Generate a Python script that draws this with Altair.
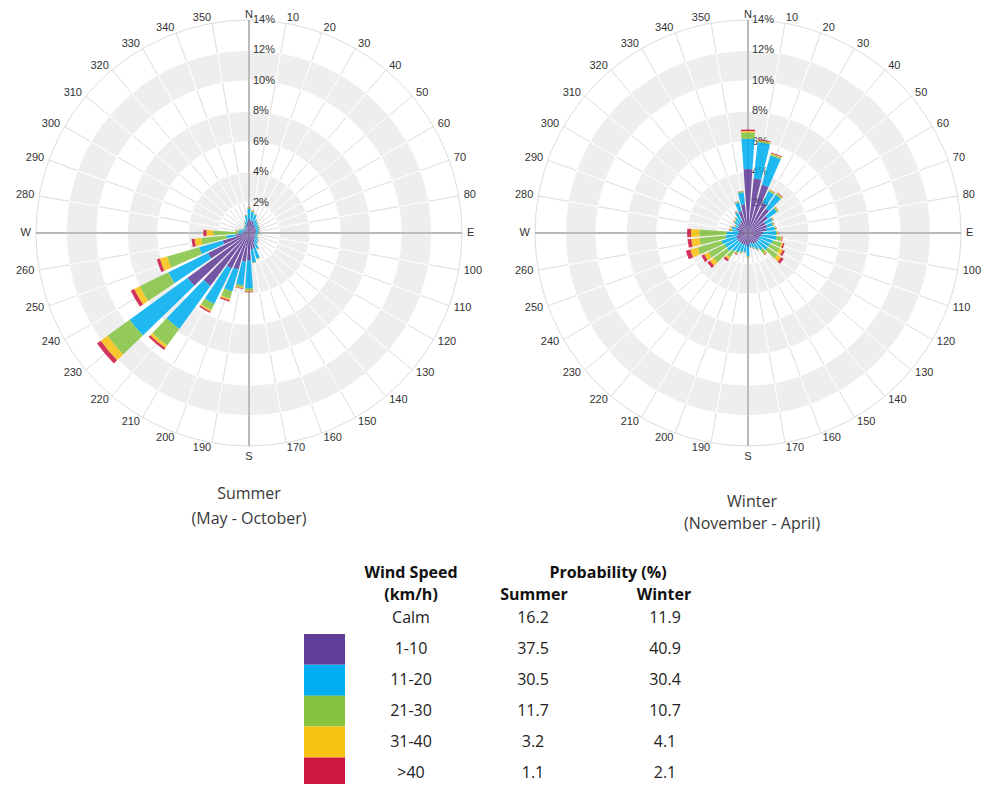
import math
import altair as alt
import pandas as pd

# ---------------- data ----------------
DIRECTIONS = [0, 10, 20, 30, 40, 50, 60, 70, 80, 90, 100, 110, 120, 130, 140, 150, 160, 170,
              180, 190, 200, 210, 220, 230, 240, 250, 260, 270, 280, 290, 300, 310, 320, 330, 340, 350]
SPEED_CLASSES = ["1-10", "11-20", "21-30", "31-40", ">40"]
SPEED_COLORS = ["#603e98", "#00afef", "#85c341", "#f8c210", "#cd1642"]

# percent of time, per direction (0..350 step 10), per speed class
summer_1_10 = [0.9, 0.8, 0.8, 0.6, 0.6, 0.5, 0.5, 0.5, 0.45, 0.45, 0.4, 0.4, 0.45, 0.5, 0.55, 0.7, 1.0, 1.1,
               1.8, 1.9, 2.5, 2.6, 4.3, 5.0, 3.0, 1.8, 0.9, 0.4, 0.4, 0.4, 0.3, 0.3, 0.3, 0.35, 0.5, 0.7]
summer_11_20 = [0.7, 0.6, 0.45, 0.35, 0.25, 0.25, 0.25, 0.2, 0.2, 0.2, 0.15, 0.15, 0.2, 0.25, 0.3, 0.45, 0.75, 0.85,
                1.85, 1.55, 1.5, 2.6, 3.5, 4.7, 2.9, 1.6, 0.6, 0.3, 0.3, 0.2, 0.15, 0.15, 0.15, 0.2, 0.25, 0.45]
summer_21_30 = [0.05, 0.05, 0.03, 0.03, 0.03, 0.03, 0.03, 0.03, 0.03, 0.03, 0.03, 0.03, 0.03, 0.03, 0.03, 0.03, 0.03, 0.03,
                0.15, 0.15, 0.5, 0.45, 1.35, 1.8, 2.1, 2.2, 1.65, 1.65, 0.15, 0.05, 0.03, 0.03, 0.03, 0.03, 0.03, 0.03]
summer_31_40 = [0.03, 0.03, 0.01, 0.01, 0.01, 0.01, 0.01, 0.01, 0.01, 0.01, 0.01, 0.01, 0.01, 0.01, 0.01, 0.01, 0.01, 0.01,
                0.05, 0.05, 0.1, 0.1, 0.2, 0.55, 0.4, 0.5, 0.45, 0.45, 0.03, 0.03, 0.01, 0.01, 0.01, 0.01, 0.01, 0.01]
summer_over_40 = [0.02, 0.02, 0.01, 0.01, 0.01, 0.01, 0.01, 0.01, 0.01, 0.01, 0.01, 0.01, 0.01, 0.01, 0.01, 0.01, 0.01, 0.01,
                  0.05, 0.05, 0.1, 0.1, 0.15, 0.3, 0.25, 0.2, 0.2, 0.2, 0.02, 0.02, 0.01, 0.01, 0.01, 0.01, 0.01, 0.01]

winter_1_10 = [4.2, 3.6, 3.3, 2.2, 2.0, 1.6, 1.3, 1.3, 1.2, 1.0, 0.9, 0.8, 0.8, 0.8, 0.8, 0.8, 0.7, 0.7,
               0.9, 0.8, 0.8, 0.8, 0.8, 0.8, 0.8, 0.8, 0.7, 0.6, 0.6, 0.8, 0.7, 0.8, 0.8, 0.9, 1.5, 1.9]
winter_11_20 = [2.0, 2.4, 2.0, 0.85, 1.1, 0.75, 0.5, 0.4, 0.6, 0.85, 1.0, 0.9, 0.8, 0.8, 0.6, 0.4, 0.3, 0.25,
                0.6, 0.45, 0.5, 0.6, 0.7, 0.9, 0.9, 1.0, 0.8, 0.8, 0.45, 0.3, 0.2, 0.3, 0.4, 0.6, 0.6, 0.8]
winter_21_30 = [0.4, 0.1, 0.1, 0.1, 0.1, 0.1, 0.05, 0.06, 0.06, 0.1, 0.3, 0.6, 0.7, 0.8, 0.3, 0.05, 0.05, 0.03,
                0.06, 0.03, 0.06, 0.1, 0.5, 1.1, 1.2, 1.65, 1.7, 1.8, 0.1, 0.05, 0.05, 0.05, 0.05, 0.05, 0.06, 0.06]
winter_31_40 = [0.1, 0.05, 0.05, 0.03, 0.05, 0.03, 0.03, 0.02, 0.02, 0.03, 0.05, 0.1, 0.25, 0.3, 0.05, 0.03, 0.03, 0.01,
                0.02, 0.01, 0.02, 0.05, 0.15, 0.3, 0.3, 0.5, 0.55, 0.55, 0.05, 0.03, 0.03, 0.03, 0.03, 0.03, 0.02, 0.02]
winter_over_40 = [0.1, 0.05, 0.05, 0.02, 0.05, 0.02, 0.02, 0.02, 0.02, 0.02, 0.05, 0.1, 0.15, 0.2, 0.05, 0.02, 0.02, 0.01,
                  0.02, 0.01, 0.02, 0.05, 0.15, 0.2, 0.2, 0.3, 0.25, 0.25, 0.05, 0.02, 0.02, 0.02, 0.02, 0.02, 0.02, 0.02]

COMPASS = {0: "N", 90: "E", 180: "S", 270: "W"}
RING_TICKS = [2, 4, 6, 8, 10, 12, 14]
GREY_BANDS = [(2, 4), (6, 8), (10, 12)]
R_MAX = 14

TABLE_ROWS = ["Calm", "1-10", "11-20", "21-30", "31-40", ">40"]
SUMMER_PROB = ["16.2", "37.5", "30.5", "11.7", "3.2", "1.1"]
WINTER_PROB = ["11.9", "40.9", "30.4", "10.7", "4.1", "2.1"]

# ---------------- styling / layout ----------------
R_PX = 213          # pixel radius of the 14% ring
HALF_WIDTH_DEG = 4  # half angular width of a bar
LABEL_R = 14.33     # radius (in % units) of the direction labels
FONT_AXIS = "Liberation Sans"
FONT_TEXT = "Open Sans"
ROSE_H = 448
ROW_GAP = 100

THETA_SCALE = alt.Scale(domain=[0, 360], range=[0, 2 * math.pi])
RADIUS_SCALE = alt.Scale(type="linear", domain=[0, R_MAX], range=[0, R_PX])


def th(field):
    return alt.Theta(field, type="quantitative", scale=THETA_SCALE, stack=False)


def rad(field):
    return alt.Radius(field, type="quantitative", scale=RADIUS_SCALE)


def rose(series, width, height, title_lines, title_offset, title_dx, line_height):
    rows = []
    for i, d in enumerate(DIRECTIONS):
        acc = 0.0
        for k, sp in enumerate(SPEED_CLASSES):
            v = series[k][i]
            rows.append({"dir": d, "speed": sp, "t0": d - HALF_WIDTH_DEG, "t1": d + HALF_WIDTH_DEG,
                         "r0": acc, "r1": acc + v})
            acc += v
    bars_df = pd.DataFrame(rows)

    spokes_df = pd.DataFrame({"t": DIRECTIONS, "r0": [0] * len(DIRECTIONS), "r1": [R_MAX] * len(DIRECTIONS)})
    bands_df = pd.DataFrame([{"t0": d, "t1": d + 10, "r0": a, "r1": b} for (a, b) in GREY_BANDS for d in DIRECTIONS])
    outer_df = pd.DataFrame({"t0": [0], "t1": [360], "r0": [0], "r1": [R_MAX]})
    axes_df = pd.DataFrame({"t": [0, 90, 180, 270], "r0": [0, 0, 0, 0], "r1": [R_MAX, R_MAX, R_MAX, R_MAX]})
    pct_df = pd.DataFrame({"t": [0] * len(RING_TICKS), "v": RING_TICKS, "lab": [f"{v}%" for v in RING_TICKS]})
    dir_df = pd.DataFrame({"t": DIRECTIONS, "rl": [LABEL_R] * len(DIRECTIONS),
                           "lab": [COMPASS.get(d, str(d)) for d in DIRECTIONS]})
    right_df = dir_df[(dir_df.t > 0) & (dir_df.t < 180)]
    left_df = dir_df[dir_df.t > 180]
    top_df = dir_df[dir_df.t == 0]
    bottom_df = dir_df[dir_df.t == 180]

    spokes = alt.Chart(spokes_df).mark_arc(stroke="#e4e4e4", strokeWidth=1, fillOpacity=0).encode(
        theta=th("t"), theta2="t", radius=rad("r0"), radius2="r1")
    bands = alt.Chart(bands_df).mark_arc(fill="#eeeeee", stroke="#ffffff", strokeWidth=1).encode(
        theta=th("t0"), theta2="t1", radius=rad("r0"), radius2="r1")
    outer = alt.Chart(outer_df).mark_arc(fillOpacity=0, stroke="#dcdcdc", strokeWidth=1).encode(
        theta=th("t0"), theta2="t1", radius=rad("r0"), radius2="r1")
    axes = alt.Chart(axes_df).mark_arc(fillOpacity=0, stroke="#a9a9a9", strokeWidth=1).encode(
        theta=th("t"), theta2="t", radius=rad("r0"), radius2="r1")
    pct = alt.Chart(pct_df).mark_text(align="left", baseline="middle", dx=4, fontSize=11,
                                      font=FONT_AXIS, color="#333333").encode(
        theta=th("t"), radius=rad("v"), text="lab:N")
    bars = alt.Chart(bars_df).mark_arc(opacity=0.87).encode(
        theta=th("t0"), theta2="t1", radius=rad("r0"), radius2="r1",
        color=alt.Color("speed:N", scale=alt.Scale(domain=SPEED_CLASSES, range=SPEED_COLORS), legend=None))

    lab_style = dict(baseline="middle", fontSize=11, font=FONT_AXIS, color="#333333")
    lab_enc = dict(theta=th("t"), radius=rad("rl"), text="lab:N")
    lab_right = alt.Chart(right_df).mark_text(align="left", **lab_style).encode(**lab_enc)
    lab_left = alt.Chart(left_df).mark_text(align="right", **lab_style).encode(**lab_enc)
    lab_top = alt.Chart(top_df).mark_text(align="center", **lab_style).encode(**lab_enc)
    lab_bottom = alt.Chart(bottom_df).mark_text(align="center", dy=6, **lab_style).encode(**lab_enc)

    return alt.layer(spokes, bands, outer, axes, pct, bars,
                     lab_right, lab_left, lab_top, lab_bottom).properties(
        width=width, height=height,
        title=alt.TitleParams(text=title_lines, orient="bottom", anchor="middle", frame="group",
                              offset=title_offset, dx=title_dx, fontSize=16, font=FONT_TEXT,
                              fontWeight="normal", color="#3a3a3a", lineHeight=line_height))


summer = rose([summer_1_10, summer_11_20, summer_21_30, summer_31_40, summer_over_40],
              482, ROSE_H, ["Summer", "(May - October)"], 24, 0, 25)
winter = rose([winter_1_10, winter_11_20, winter_21_30, winter_31_40, winter_over_40],
              468, ROSE_H, ["Winter", "(November - April)"], 32, 4, 22)

# ---------------- table ----------------
table_df = pd.DataFrame({"row": TABLE_ROWS, "summer": SUMMER_PROB, "winter": WINTER_PROB})
swatch_df = pd.DataFrame({"row": SPEED_CLASSES})
header_df = pd.DataFrame({
    "lab": ["Wind Speed", "(km/h)", "Probability (%)", "Summer", "Winter"],
    "px": [403, 403, 600, 526, 656],
    "py": [16, 38, 16, 38, 38],
})

Y_ROWS = alt.Scale(domain=TABLE_ROWS, range=[46.0, 231.4], paddingInner=0, paddingOuter=0)

swatches = alt.Chart(swatch_df).mark_rect(clip=True).encode(
    x=alt.value(296), x2=alt.value(337),
    y=alt.Y("row:N", scale=Y_ROWS, axis=None),
    color=alt.Color("row:N", scale=alt.Scale(domain=SPEED_CLASSES, range=SPEED_COLORS), legend=None))

txt = dict(fontSize=16, font=FONT_TEXT, color="#222222", align="center", baseline="middle")
col_speed = alt.Chart(table_df).mark_text(**txt).encode(
    x=alt.value(403), y=alt.Y("row:N", scale=Y_ROWS, axis=None), text="row:N")
col_summer = alt.Chart(table_df).mark_text(**txt).encode(
    x=alt.value(525), y=alt.Y("row:N", scale=Y_ROWS, axis=None), text="summer:N")
col_winter = alt.Chart(table_df).mark_text(**txt).encode(
    x=alt.value(657), y=alt.Y("row:N", scale=Y_ROWS, axis=None), text="winter:N")

headers = []
for _, h in header_df.iterrows():
    headers.append(
        alt.Chart(pd.DataFrame({"lab": [h["lab"]]})).mark_text(
            fontSize=16, font=FONT_TEXT, fontWeight="bold", color="#111111",
            align="center", baseline="middle").encode(
            x=alt.value(float(h["px"])), y=alt.value(float(h["py"])), text="lab:N"))

table = alt.layer(swatches, col_speed, col_summer, col_winter, *headers).properties(width=700, height=227)

# with flush bounds the nested row counts as zero height, so the gap includes the rose height
chart = alt.vconcat(
    alt.hconcat(summer, winter, spacing=24, bounds="flush"),
    table,
    spacing=ROSE_H + ROW_GAP, bounds="flush",
).properties(
    padding=0,
).configure_view(strokeWidth=0)

chart.save("out.html", embed_options={"renderer": "svg", "actions": False})
